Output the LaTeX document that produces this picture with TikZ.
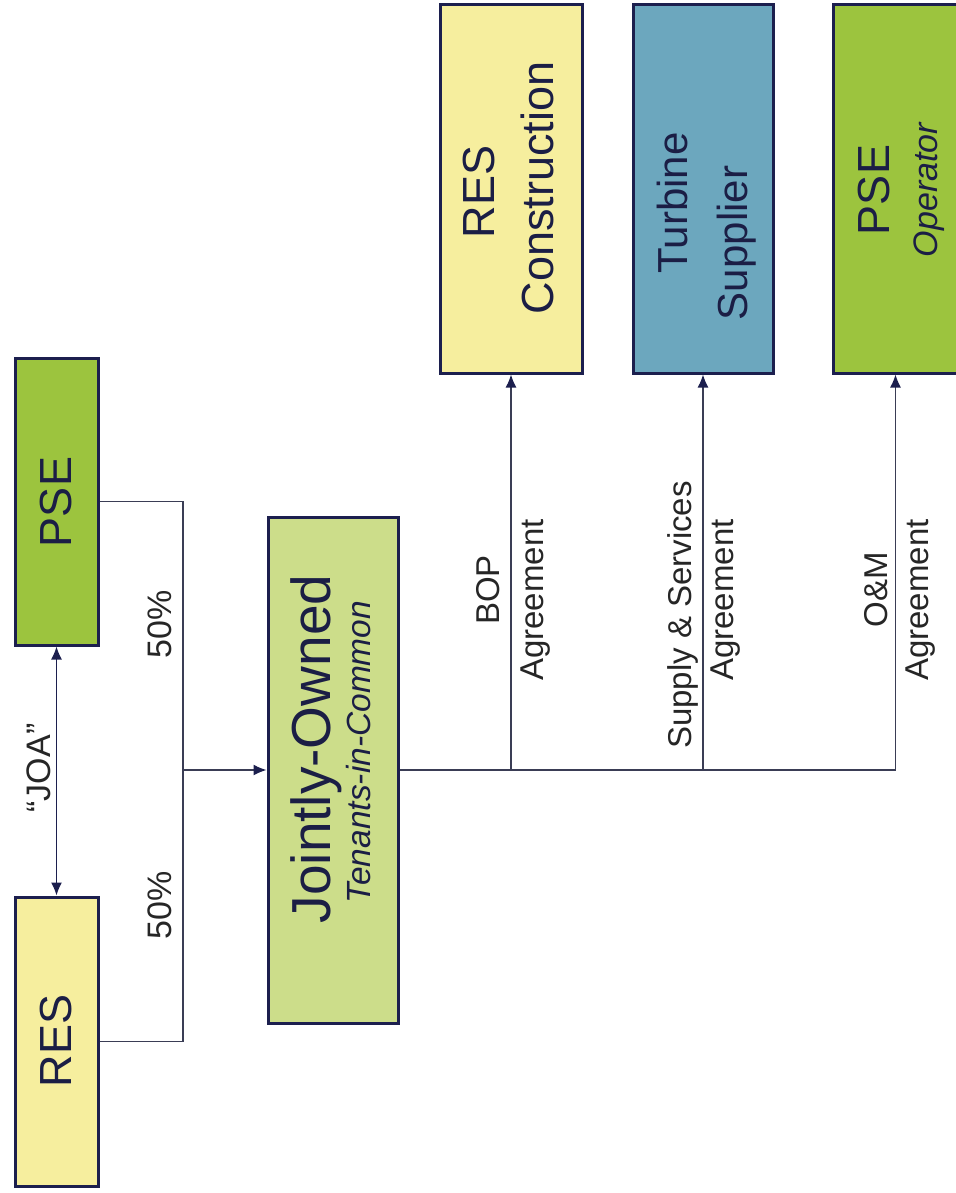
\documentclass[tikz,border=0pt]{standalone}
\usepackage{fontspec}
\setmainfont{Liberation Sans}
\usetikzlibrary{arrows.meta}
\definecolor{navy}{HTML}{1C1F4E}
\definecolor{lineclr}{HTML}{3A3D55}
\definecolor{resyel}{HTML}{F6EE9E}
\definecolor{psegrn}{HTML}{9CC43E}
\definecolor{jogrn}{HTML}{CCDD8A}
\definecolor{turblue}{HTML}{6CA7BE}
\definecolor{txt}{HTML}{1B1E45}
\tikzset{
  box/.style={draw=navy, line width=3pt, inner sep=0pt},
  btxt/.style={rotate=90, inner sep=0pt, text=txt, anchor=center},
  lbl/.style={rotate=90, inner sep=0pt, text=black!85, anchor=center, font=\fontsize{33}{40}\selectfont},
  conn/.style={draw=lineclr, line width=1.4pt},
  tip/.style={-{Latex[length=13pt,width=11pt,color=navy]}},
}
\begin{document}
\begin{tikzpicture}[x=1pt,y=-1pt]
\useasboundingbox (0,0) rectangle (955,1193);
% boxes
\node[box, fill=resyel, minimum width=83pt, minimum height=289pt] (res) at (56.5,1041.5) {};
\node[box, fill=psegrn, minimum width=83pt, minimum height=287pt] (pse) at (56.5,501.5) {};
\node[box, fill=jogrn, minimum width=130pt, minimum height=506pt] (jo) at (333,770) {};
\node[box, fill=resyel, minimum width=142pt, minimum height=368pt] (resc) at (511,189) {};
\node[box, fill=turblue, minimum width=140pt, minimum height=368pt] (ts) at (703,189) {};
\node[box, fill=psegrn, minimum width=125pt, minimum height=368pt] (pseo) at (895.5,189) {};
% box texts
\node[btxt, font=\fontsize{45}{54}\selectfont] (tres) at (56,1041) {RES};
\node[btxt, font=\fontsize{45}{54}\selectfont] (tpse) at (56,502) {PSE};
\node[btxt, font=\fontsize{55}{62}\selectfont] (tjo1) at (316,749) {Jointly-Owned};
\node[btxt, font=\itshape\fontsize{33.5}{40}\selectfont] (tjo2) at (359,752) {Tenants-in-Common};
\node[btxt, font=\fontsize{45}{54}\selectfont] (trc1) at (479,192) {RES};
\node[btxt, font=\fontsize{45}{54}\selectfont] (trc2) at (537,188) {Construction};
\node[btxt, font=\fontsize{42}{50}\selectfont] (tts1) at (672,203) {Turbine};
\node[btxt, font=\fontsize{42}{50}\selectfont] (tts2) at (737,243) {Supplier};
\node[btxt, font=\fontsize{45}{54}\selectfont] (tpo1) at (874,190) {PSE};
\node[btxt, font=\itshape\fontsize{34}{40}\selectfont] (tpo2) at (929,190) {Operator};
% JOA
\draw[conn, draw=navy, {Latex[length=13pt,width=11pt]}-{Latex[length=13pt,width=11pt]}] (pse.south) -- (res.north);
\node[lbl, font=\fontsize{34}{40}\selectfont] (joa) at (39,768) {“JOA”};
% ownership bracket
\coordinate (j) at (183,770);
\draw[conn] (res.east) -| (j) |- (pse.east);
\draw[conn, tip] (j) -- (jo.west);
\node[lbl, font=\fontsize{34}{40}\selectfont] (p1) at (160,624) {50\%};
\node[lbl, font=\fontsize{34}{40}\selectfont] (p2) at (160,905) {50\%};
% agreements
\coordinate (b1) at (resc.south |- jo.east);
\coordinate (b2) at (ts.south |- jo.east);
\draw[conn, tip] (jo.east) -| (pseo.south);
\draw[conn, tip] (b1) -- (resc.south);
\draw[conn, tip] (b2) -- (ts.south);
\node[lbl] (l1a) at (488,590) {BOP};
\node[lbl] (l1b) at (536,600) {Agreement};
\node[lbl] (l2a) at (683,615) {Supply \& Services};
\node[lbl] (l2b) at (726,600) {Agreement};
\node[lbl] (l3a) at (876,590) {O\&M};
\node[lbl] (l3b) at (921,600) {Agreement};
\end{tikzpicture}
\end{document}
